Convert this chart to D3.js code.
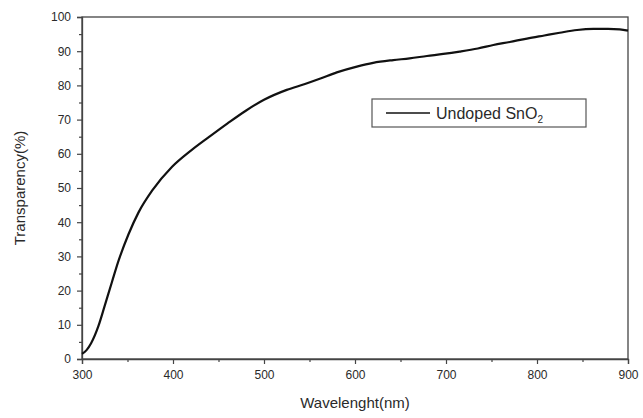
<!DOCTYPE html>
<html>
<head>
<meta charset="utf-8">
<script src="https://cdn.jsdelivr.net/npm/d3@7"></script>
<style>
  html, body { margin: 0; padding: 0; background: #fff; }
  svg { display: block; font-family: "Liberation Sans", Arial, sans-serif; }
</style>
</head>
<body>
<svg id="chart" width="643" height="418"></svg>
<script>
// Optical transmittance spectrum of an undoped SnO2 film
const wavelength = [300, 305, 310, 318, 325, 333, 340, 351, 362, 377, 399, 420, 440, 460, 480, 500, 525, 545, 562, 580, 602, 620, 642, 660, 679, 697, 715, 735, 752, 770, 789, 808, 825, 844, 862, 878, 891, 900];
const transparency = [1.5, 2.6, 4.6, 9.6, 15.6, 22.6, 28.6, 36.4, 42.8, 49.2, 56.2, 61.0, 65.0, 68.9, 72.6, 75.8, 78.7, 80.4, 82.0, 83.8, 85.5, 86.6, 87.4, 87.9, 88.6, 89.2, 89.9, 90.8, 91.8, 92.7, 93.7, 94.6, 95.4, 96.2, 96.5, 96.5, 96.4, 96.0];
const xTicks = [300, 400, 500, 600, 700, 800, 900];
const yTicks = [0, 10, 20, 30, 40, 50, 60, 70, 80, 90, 100];
const seriesName = "Undoped SnO";

const svg = d3.select("#chart");
const m = { left: 82, right: 628, top: 17, bottom: 359 };

const x = d3.scaleLinear().domain([300, 900]).range([m.left, m.right]);
const y = d3.scaleLinear().domain([0, 100]).range([m.bottom, m.top]);

const ink = "#2a2a2a";

// frame
svg.append("rect")
  .attr("x", m.left).attr("y", m.top)
  .attr("width", m.right - m.left).attr("height", m.bottom - m.top)
  .attr("fill", "none").attr("stroke", "#444").attr("stroke-width", 1.3);

// bottom axis: major + minor ticks outward
svg.append("g").attr("transform", `translate(0,${m.bottom})`)
  .call(d3.axisBottom(x).tickValues(xTicks).tickSize(5).tickPadding(6).tickFormat(d3.format("d")));
svg.append("g").attr("transform", `translate(0,${m.bottom})`)
  .call(d3.axisBottom(x).tickValues([350, 450, 550, 650, 750, 850]).tickSize(3).tickFormat(""))
  .call(g => g.select(".domain").remove());

// left axis
svg.append("g").attr("transform", `translate(${m.left},0)`)
  .call(d3.axisLeft(y).tickValues(yTicks).tickSize(5).tickPadding(6).tickFormat(d3.format("d")));
svg.append("g").attr("transform", `translate(${m.left},0)`)
  .call(d3.axisLeft(y).tickValues(d3.range(5, 100, 10)).tickSize(3).tickFormat(""))
  .call(g => g.select(".domain").remove());

svg.selectAll(".domain").attr("stroke", "#444").attr("stroke-width", 1.3);
svg.selectAll(".tick line").attr("stroke", "#444").attr("stroke-width", 1.2);
svg.selectAll(".tick text").attr("fill", ink).attr("font-size", 12)
  .attr("font-family", "Liberation Sans, Arial, sans-serif");

// axis titles
svg.append("text")
  .attr("x", (m.left + m.right) / 2).attr("y", 408)
  .attr("text-anchor", "middle").attr("font-size", 15).attr("fill", ink)
  .text("Wavelenght(nm)");
svg.append("text")
  .attr("transform", `translate(25,${(m.top + m.bottom) / 2}) rotate(-90)`)
  .attr("text-anchor", "middle").attr("font-size", 15).attr("fill", ink)
  .text("Transparency(%)");

// spectrum curve
const line = d3.line()
  .x((d, i) => x(wavelength[i]))
  .y((d, i) => y(transparency[i]))
  .curve(d3.curveMonotoneX);
svg.append("path")
  .datum(transparency)
  .attr("d", line)
  .attr("fill", "none").attr("stroke", "#111").attr("stroke-width", 2.2)
  .attr("stroke-linejoin", "round");

// legend
const lg = svg.append("g").attr("transform", "translate(372,99)");
lg.append("rect").attr("width", 214).attr("height", 28)
  .attr("fill", "#fff").attr("stroke", "#555").attr("stroke-width", 1.2);
lg.append("line").attr("x1", 14).attr("x2", 58).attr("y1", 14).attr("y2", 14)
  .attr("stroke", "#111").attr("stroke-width", 1.5);
const lt = lg.append("text").attr("x", 64).attr("y", 20)
  .attr("font-size", 16).attr("fill", ink).text(seriesName);
lt.append("tspan").attr("font-size", 10).attr("dy", 4).text("2");
</script>
</body>
</html>
